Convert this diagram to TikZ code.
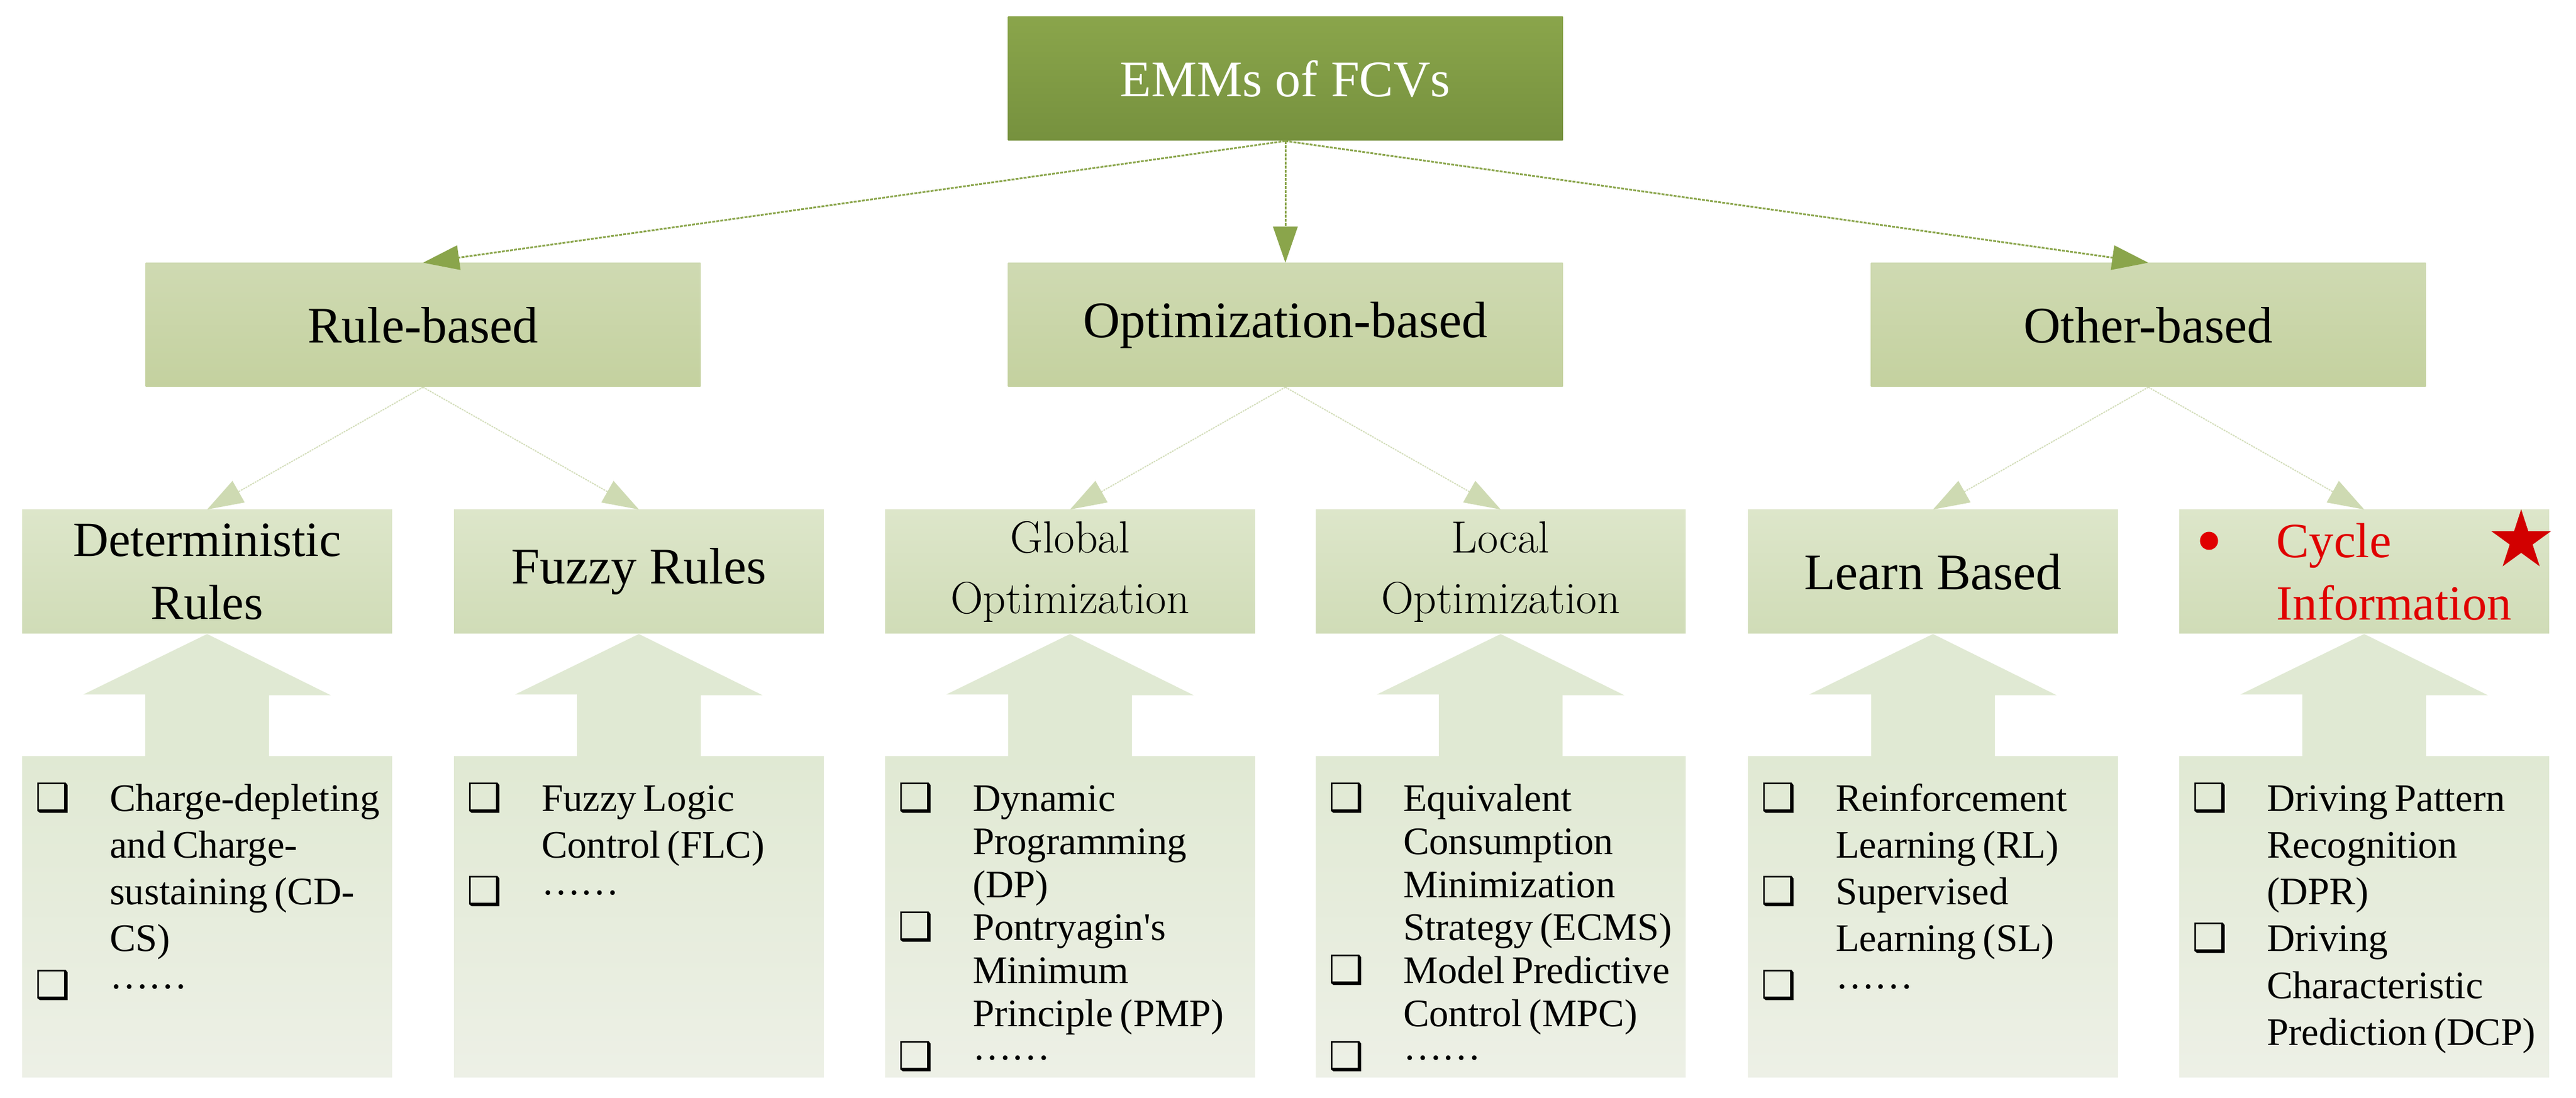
\documentclass[tikz,border=0pt]{standalone}
\usepackage{fontspec}
\newfontfamily\timesfont{Liberation Serif}
\newfontfamily\symfont{DejaVu Sans}
\usetikzlibrary{arrows.meta,calc,shapes.geometric}

\definecolor{topoben}{HTML}{8AA54B}
\definecolor{topunten}{HTML}{76913E}
\definecolor{astoben}{HTML}{CFDAB2}
\definecolor{astunten}{HTML}{C4D19F}
\definecolor{zweigoben}{HTML}{DDE6CA}
\definecolor{zweigunten}{HTML}{D0DCB7}
\definecolor{listoben}{HTML}{E0E9D3}
\definecolor{listunten}{HTML}{EDF0E6}
\definecolor{linie1}{HTML}{8AA54B}
\definecolor{linie2}{HTML}{D3DDBA}
\definecolor{spitze2}{HTML}{CEDAB2}
\definecolor{rot}{HTML}{E00000}
\definecolor{sternrot}{HTML}{D20000}

\newcommand\bx{{\symfont ❑}}
\newcommand\punkte{\raisebox{0.17cm}{……}}
\newenvironment{emmlist}[1]{\timesfont\fontsize{19}{#1}\selectfont
  \begin{list}{}{\setlength\leftmargin{1.5cm}\setlength\labelwidth{1.5cm}%
    \setlength\labelsep{0pt}\setlength\topsep{0pt}\setlength\partopsep{0pt}%
    \setlength\itemsep{0pt}\setlength\parsep{0pt}%
    \renewcommand\makelabel[1]{\hspace{0.22cm}##1\hfil}}}{\end{list}}

\begin{document}
\begin{tikzpicture}[x=1cm,y=1cm,
	kopf/.style={top color=topoben,bottom color=topunten,minimum width=9.51cm,minimum height=2.12cm,inner sep=0,text=white,font=\timesfont\fontsize{25}{30}\selectfont},
	ast/.style={top color=astoben,bottom color=astunten,minimum width=9.51cm,minimum height=2.12cm,inner sep=0,font=\timesfont\fontsize{25}{30}\selectfont},
	zweig/.style={top color=zweigoben,bottom color=zweigunten,minimum width=6.34cm,minimum height=2.12cm,inner sep=0,align=center,font=\timesfont\fontsize{24}{30.5}\selectfont},
	lmschrift/.style={font=\rmfamily\fontsize{22}{29.6}\selectfont},
	liste/.style={top color=listoben,bottom color=listunten,minimum width=6.34cm,minimum height=5.5cm,inner sep=0},
	listtext/.style={anchor=north west,inner sep=0,text width=6.6cm,align=left},
	pfeil1/.style={draw=linie1,line width=0.03cm,dash pattern=on 0.05cm off 0.02cm,-{Triangle[length=0.62cm,width=0.42cm,color=linie1]}},
	pfeil2/.style={draw=linie2,line width=0.02cm,dash pattern=on 0.03cm off 0.015cm,-{Triangle[length=0.62cm,width=0.42cm,color=spitze2]}},
	blockpfeil/.style={fill=listoben}]
	\useasboundingbox (0,0) rectangle (44.15,18.82);

	%Kaesten zeichnen
	\node[kopf] (emm) at (22.03,17.47) {EMMs of FCVs};
	\node[ast] (rule) at (7.25,13.25) {Rule-based};
	\node[ast] (opt) at (22.03,13.25) {Optimization-based};
	\node[ast] (oth) at (36.82,13.25) {Other-based};

	\node[zweig] (det) at (3.55,9.02) {Deterministic\\Rules};
	\node[zweig,font=\timesfont\fontsize{25}{30}\selectfont] (fuz) at (10.95,9.02) {Fuzzy Rules};
	\node[zweig,lmschrift] (glo) at (18.34,9.02) {Global\\Optimization};
	\node[zweig,lmschrift] (loc) at (25.72,9.02) {Local\\Optimization};
	\node[zweig,font=\timesfont\fontsize{25}{30}\selectfont] (lea) at (33.13,9.02) {Learn Based};
	\node[zweig] (cyc) at (40.52,9.02) {};
	\node[anchor=west,align=left,text=rot,inner sep=0,font=\timesfont\fontsize{24}{30.5}\selectfont] (cyctext) at (39.01,9.02) {Cycle\\Information};
	\node[circle,fill=rot,minimum size=0.31cm,inner sep=0] (punkt) at (37.86,9.55) {};
	\node[star,star points=5,star point ratio=2.618,fill=sternrot,minimum size=1.08cm,inner sep=0] (stern) at (43.21,9.55) {};

	\foreach \n/\x in {det/3.55,fuz/10.95,glo/18.34,loc/25.72,lea/33.13,cyc/40.52}
		\node[liste] (l-\n) at (\x,3.10) {};

	%Blockpfeile zeichnen
	\foreach \n in {det,fuz,glo,loc,lea,cyc}
		\fill[blockpfeil] ($(l-\n.north)+(-1.06,0)$) -- ++(0,1.06) -- ++(-1.06,0) -- (\n.south)
			-- ++(2.12,-1.05) -- ++(-1.06,0) -- ++(0,-1.06) -- cycle;

	%Verbindungen zeichnen
	\foreach \b in {rule,opt,oth}
		\draw[pfeil1] (emm.south) -- (\b.north);
	\foreach \a/\b in {rule/det,rule/fuz,opt/glo,opt/loc,oth/lea,oth/cyc}
		\draw[pfeil2] (\a.south) -- (\b.north);

	%Listen
	\node[listtext] (t-det) at (l-det.north west) {\begin{emmlist}{22.8pt}
		\item[\bx]\rule{0pt}{0.9cm}Charge-depleting\\and Charge-\\sustaining (CD-\\CS)
		\item[\bx]\punkte\end{emmlist}};
	\node[listtext] (t-fuz) at (l-fuz.north west) {\begin{emmlist}{22.8pt}
		\item[\bx]\rule{0pt}{0.9cm}Fuzzy Logic\\Control (FLC)
		\item[\bx]\punkte\end{emmlist}};
	\node[listtext] (t-glo) at (l-glo.north west) {\begin{emmlist}{21pt}
		\item[\bx]\rule{0pt}{0.9cm}Dynamic\\Programming\\(DP)
		\item[\bx]Pontryagin's\\Minimum\\Principle (PMP)
		\item[\bx]\punkte\end{emmlist}};
	\node[listtext] (t-loc) at (l-loc.north west) {\begin{emmlist}{21pt}
		\item[\bx]\rule{0pt}{0.9cm}Equivalent\\Consumption\\Minimization\\Strategy (ECMS)
		\item[\bx]Model Predictive\\Control (MPC)
		\item[\bx]\punkte\end{emmlist}};
	\node[listtext] (t-lea) at (l-lea.north west) {\begin{emmlist}{22.8pt}
		\item[\bx]\rule{0pt}{0.9cm}Reinforcement\\Learning (RL)
		\item[\bx]Supervised\\Learning (SL)
		\item[\bx]\punkte\end{emmlist}};
	\node[listtext] (t-cyc) at (l-cyc.north west) {\begin{emmlist}{22.8pt}
		\item[\bx]\rule{0pt}{0.9cm}Driving Pattern\\Recognition\\(DPR)
		\item[\bx]Driving\\Characteristic\\Prediction (DCP)\end{emmlist}};
\end{tikzpicture}
\end{document}
